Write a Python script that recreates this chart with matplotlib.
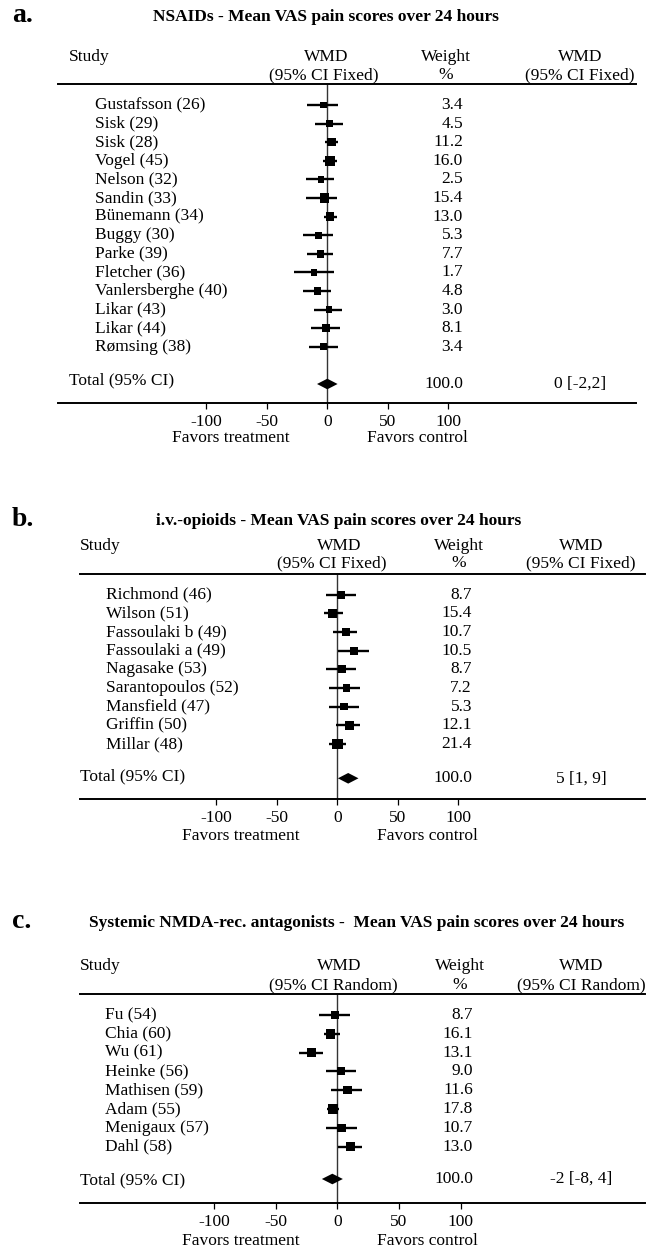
import numpy as np
import matplotlib
matplotlib.use("Agg")
import matplotlib.pyplot as plt
from matplotlib.transforms import blended_transform_factory

plt.rcParams["font.family"] = ["Liberation Serif", "DejaVu Serif"]
plt.rcParams["axes.unicode_minus"] = False

W, H = 653, 1247

# ------------------------------------ data: a. NSAIDs

a_studies = ["Gustafsson (26)", "Sisk (29)", "Sisk (28)", "Vogel (45)",
             "Nelson (32)", "Sandin (33)", "Bünemann (34)", "Buggy (30)",
             "Parke (39)", "Fletcher (36)", "Vanlersberghe (40)",
             "Likar (43)", "Likar (44)", "Rømsing (38)"]
a_wmd = [-3.3, 1.7, 3.6, 2.2, -5.2, -2.5, 2.2, -7.4, -5.5, -11.0, -8.0,
         1.4, -0.8, -3.3]
a_lo = [-16.5, -10.0, -2.0, -3.3, -18.0, -17.6, -2.7, -19.8, -16.5, -27.5,
        -20.0, -10.7, -13.5, -14.9]
a_hi = [9.0, 13.0, 9.0, 8.0, 5.5, 8.0, 7.7, 5.0, 5.0, 5.5, 2.8, 11.9,
        10.5, 8.8]
a_weight = [3.4, 4.5, 11.2, 16.0, 2.5, 15.4, 13.0, 5.3, 7.7, 1.7, 4.8,
            3.0, 8.1, 3.4]
a_pooled = 0.0
a_total = "0 [-2,2]"

# ------------------------------------ data: b. i.v.-opioids

b_studies = ["Richmond (46)", "Wilson (51)", "Fassoulaki b (49)",
             "Fassoulaki a (49)", "Nagasake (53)", "Sarantopoulos (52)",
             "Mansfield (47)", "Griffin (50)", "Millar (48)"]
b_wmd = [2.8, -3.8, 7.2, 13.8, 3.9, 7.7, 5.5, 9.9, 0.0]
b_lo = [-9.6, -11.0, -3.3, 0.6, -9.0, -6.6, -7.2, -1.0, -7.2]
b_hi = [15.5, 4.5, 16.0, 26.0, 15.5, 18.8, 18.2, 18.8, 7.2]
b_weight = [8.7, 15.4, 10.7, 10.5, 8.7, 7.2, 5.3, 12.1, 21.4]
b_pooled = 9.0
b_total = "5 [1, 9]"

# ------------------------------------ data: c. NMDA antagonists

c_studies = ["Fu (54)", "Chia (60)", "Wu (61)", "Heinke (56)",
             "Mathisen (59)", "Adam (55)", "Menigaux (57)", "Dahl (58)"]
c_wmd = [-1.9, -5.5, -21.0, 2.8, 8.3, -3.8, 3.3, 10.5]
c_lo = [-15.0, -11.0, -30.8, -9.4, -5.0, -8.3, -8.8, 0.6]
c_hi = [10.5, 2.2, -11.6, 15.2, 20.0, 1.7, 16.0, 20.0]
c_weight = [8.7, 16.1, 13.1, 9.0, 11.6, 17.8, 10.7, 13.0]
c_pooled = -4.0
c_total = "-2 [-8, 4]"

ticks = [-100, -50, 0, 50, 100]
tick_labels = ["-100", "-50", "0", "50", "100"]


def fx(px):
    return px / W


def fy(py):
    return 1.0 - py / H


def draw_panel(fig, lay, letter, title, ci_hdr,
               studies, wmd, lo, hi, weight, pooled, total_txt):

    x0, x1 = lay["line_x"]
    hdr_y, axis_y = lay["hdr_y"], lay["axis_y"]
    first, sp = lay["first"], lay["sp"]
    zero, scal = lay["zero"], lay["scale"]

    ax = fig.add_axes([fx(x0), fy(axis_y), (x1 - x0) / W,
                       (axis_y - hdr_y) / H])
    ax.set_xlim((x0 - zero) / scal, (x1 - zero) / scal)
    ax.set_ylim((axis_y - first) / sp, (hdr_y - first) / sp)

    for s in ("left", "right"):
        ax.spines[s].set_visible(False)
    for s in ("top", "bottom"):
        ax.spines[s].set_linewidth(1.4)
    ax.set_yticks([])
    ax.set_xticks(ticks)
    ax.set_xticklabels(tick_labels)
    ax.tick_params(axis="x", direction="out", length=4.5, width=0.9,
                   pad=3.5, labelsize=12.5)

    ax.axvline(0, color="0.2", lw=1.0, zorder=1)

    rows = np.arange(len(studies))
    ax.hlines(rows, lo, hi, color="k", lw=1.7, zorder=2)
    size = (6.0 + 0.22 * np.asarray(weight)) * 0.72
    ax.scatter(wmd, rows, s=size ** 2, marker="s", c="k", lw=0, zorder=3)

    yt = (lay["total_y"] - first) / sp
    hw, dh = 8.5, 5.3 / sp
    ax.fill([pooled - hw, pooled, pooled + hw, pooled],
            [yt, yt - dh, yt, yt + dh], color="k", lw=0, zorder=3)

    tr = blended_transform_factory(fig.transFigure, ax.transData)
    for i, name in enumerate(studies):
        ax.text(fx(lay["name_x"]), i, name, transform=tr, ha="left",
                va="center", fontsize=12.5)
        ax.text(fx(lay["w_right"]), i, f"{weight[i]:.1f}", transform=tr,
                ha="right", va="center", fontsize=12.5)
    ax.text(fx(lay["w_right"]), yt, f"{sum(weight):.1f}", transform=tr,
            ha="right", va="center", fontsize=12.5)
    ax.text(fx(lay["right_c"]), yt, total_txt, transform=tr,
            ha="center", va="center", fontsize=12.5)
    fig.text(fx(lay["study_x"]), fy(lay["total_lbl_y"]), "Total (95% CI)",
             ha="left", va="center", fontsize=12.5)

    # header
    r1, r2 = lay["hdr_rows"]
    fig.text(fx(12), fy(lay["letter_y"]), letter, ha="left", va="center",
             fontsize=20, fontweight="bold")
    fig.text(fx(lay["title_c"]), fy(lay["title_y"]), title, ha="center",
             va="center", fontsize=12.5, fontweight="bold")
    fig.text(fx(lay["study_x"]), fy(r1), "Study", ha="left", va="center",
             fontsize=12.5)
    fig.text(fx(lay["wmd_c"][0]), fy(r1), "WMD", ha="center", va="center",
             fontsize=12.5)
    fig.text(fx(lay["wmd_c"][1]), fy(r2), ci_hdr, ha="center",
             va="center", fontsize=12.5)
    fig.text(fx(lay["w_c"]), fy(r1), "Weight", ha="center", va="center",
             fontsize=12.5)
    fig.text(fx(lay["w_c"]), fy(r2), "%", ha="center", va="center",
             fontsize=12.5)
    fig.text(fx(lay["right_c"]), fy(r1), "WMD", ha="center", va="center",
             fontsize=12.5)
    fig.text(fx(lay["right_c"]), fy(r2), ci_hdr, ha="center",
             va="center", fontsize=12.5)

    # favors labels
    fig.text(fx(lay["fav"][0]), fy(lay["fav_y"]), "Favors treatment",
             ha="center", va="center", fontsize=12.5)
    fig.text(fx(lay["fav"][1]), fy(lay["fav_y"]), "Favors control",
             ha="center", va="center", fontsize=12.5)
    return ax


lay_a = dict(line_x=(58, 636), hdr_y=84, axis_y=403, first=105.0, sp=18.6,
             zero=327.3, scale=1.21, total_y=384, total_lbl_y=380,
             name_x=95, study_x=69, w_right=463, w_c=446, right_c=580,
             wmd_c=(326, 324), hdr_rows=(57, 75), letter_y=15,
             title_c=326, title_y=17, fav=(231, 417), fav_y=438)
lay_b = dict(line_x=(80, 645), hdr_y=573.5, axis_y=799, first=594.7,
             sp=18.66, zero=337.3, scale=1.21, total_y=778.3,
             total_lbl_y=776, name_x=106, study_x=80, w_right=472,
             w_c=459, right_c=581, wmd_c=(339, 332), hdr_rows=(546, 563),
             letter_y=519, title_c=339, title_y=521, fav=(241, 427),
             fav_y=836)
lay_c = dict(line_x=(80, 645), hdr_y=994, axis_y=1203, first=1015.0,
             sp=18.8, zero=337.3, scale=1.235, total_y=1179,
             total_lbl_y=1180, name_x=105, study_x=80, w_right=473,
             w_c=460, right_c=581, wmd_c=(339, 333), hdr_rows=(966, 985),
             letter_y=921, title_c=357, title_y=923, fav=(241, 427),
             fav_y=1241)

fig = plt.figure(figsize=(W / 100, H / 100), dpi=100)

draw_panel(fig, lay_a, "a.", "NSAIDs - Mean VAS pain scores over 24 hours",
           "(95% CI Fixed)", a_studies, a_wmd, a_lo, a_hi, a_weight,
           a_pooled, a_total)
draw_panel(fig, lay_b, "b.",
           "i.v.-opioids - Mean VAS pain scores over 24 hours",
           "(95% CI Fixed)", b_studies, b_wmd, b_lo, b_hi, b_weight,
           b_pooled, b_total)
draw_panel(fig, lay_c, "c.",
           "Systemic NMDA-rec. antagonists -  Mean VAS pain scores over 24 hours",
           "(95% CI Random)", c_studies, c_wmd, c_lo, c_hi, c_weight,
           c_pooled, c_total)

fig.savefig("out.png", dpi=100)
